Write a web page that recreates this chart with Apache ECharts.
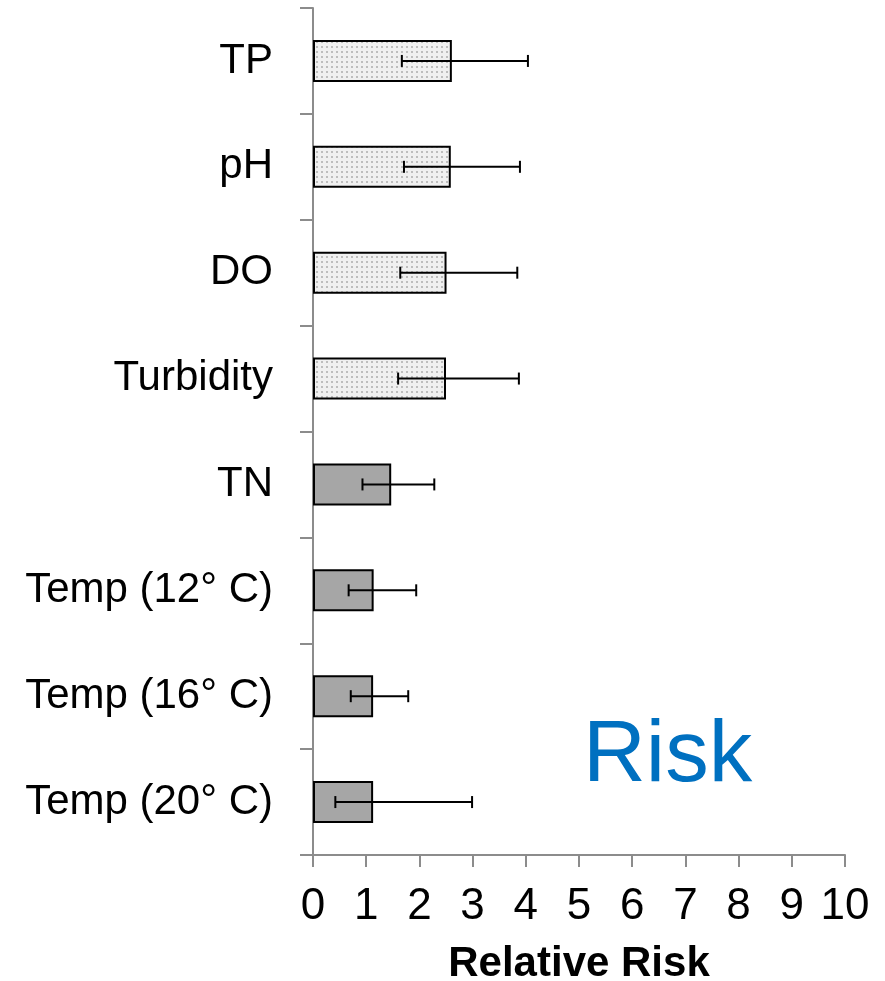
<!DOCTYPE html>
<html>
<head>
<meta charset="utf-8">
<script src="https://cdn.jsdelivr.net/npm/echarts@6/dist/echarts.min.js"></script>
<style>
  html, body { margin: 0; padding: 0; background: #fff; }
  #chart { width: 885px; height: 981px; }
</style>
</head>
<body>
<div id="chart"></div>
<script>
// Predictors, top to bottom
const categories = ['TP', 'pH', 'DO', 'Turbidity', 'TN', 'Temp (12° C)', 'Temp (16° C)', 'Temp (20° C)'];
// Relative risk estimates and their confidence bounds
const relativeRisk = [2.61, 2.59, 2.51, 2.50, 1.47, 1.14, 1.13, 1.13];
const ciLow = [1.67, 1.71, 1.64, 1.60, 0.93, 0.67, 0.71, 0.42];
const ciHigh = [4.04, 3.89, 3.84, 3.87, 2.28, 1.94, 1.79, 2.99];
// Predictors drawn with the dotted fill
const dottedCategories = ['TP', 'pH', 'DO', 'Turbidity'];
// X axis range
const xMin = 0, xMax = 10, xStep = 1;

// Small tile for the dotted fill
function makeDotTile() {
  const c = document.createElement('canvas');
  c.width = 5; c.height = 5;
  const ctx = c.getContext('2d');
  ctx.fillStyle = '#f0f0f0';
  ctx.fillRect(0, 0, 5, 5);
  ctx.fillStyle = '#bdbdbd';
  ctx.fillRect(1, 1, 2, 2);
  return c;
}
const dotTile = makeDotTile();

const barData = relativeRisk.map((v, i) => ({
  value: v,
  itemStyle: {
    color: dottedCategories.includes(categories[i])
      ? { image: dotTile, repeat: 'repeat' }
      : '#a6a6a6'
  }
}));
const errData = categories.map((c, i) => [i, ciLow[i], ciHigh[i]]);

const axisGray = '#8c8c8c';
const font = '"Liberation Sans", Arial, sans-serif';
const chart = echarts.init(document.getElementById('chart'), null, { renderer: 'canvas' });
chart.setOption({
  animation: false,
  backgroundColor: '#fff',
  grid: { left: 313, right: 40, top: 8, bottom: 126, containLabel: false, outerBoundsMode: 'none' },
  xAxis: {
    type: 'value',
    min: xMin, max: xMax, interval: xStep,
    name: 'Relative Risk',
    nameLocation: 'middle',
    nameGap: 88,
    nameTextStyle: { fontFamily: font, fontSize: 42, fontWeight: 'bold', color: '#000' },
    axisLine: { show: true, lineStyle: { color: axisGray, width: 2 } },
    axisTick: { show: true, length: 12, lineStyle: { color: axisGray, width: 2 } },
    axisLabel: { fontFamily: font, fontSize: 44, color: '#000', margin: 30 },
    splitLine: { show: false }
  },
  yAxis: {
    type: 'category',
    data: categories,
    inverse: true,
    axisLine: { show: true, lineStyle: { color: axisGray, width: 2 } },
    axisTick: { show: true, length: 13, lineStyle: { color: axisGray, width: 2 } },
    axisLabel: { fontFamily: font, fontSize: 42, color: '#000', margin: 40 },
    splitLine: { show: false }
  },
  series: [
    {
      type: 'bar',
      data: barData,
      barWidth: 42,
      itemStyle: { borderColor: '#000', borderWidth: 2 }
    },
    {
      type: 'custom',
      data: errData,
      encode: { x: [1, 2], y: 0 },
      renderItem: function (params, api) {
        const idx = api.value(0);
        const lo = api.coord([api.value(1), idx]);
        const hi = api.coord([api.value(2), idx]);
        const cap = 6;
        const style = { stroke: '#000', lineWidth: 2 };
        return {
          type: 'group',
          children: [
            { type: 'line', shape: { x1: lo[0], y1: lo[1], x2: hi[0], y2: hi[1] }, style },
            { type: 'line', shape: { x1: lo[0], y1: lo[1] - cap, x2: lo[0], y2: lo[1] + cap }, style },
            { type: 'line', shape: { x1: hi[0], y1: hi[1] - cap, x2: hi[0], y2: hi[1] + cap }, style }
          ]
        };
      },
      z: 5
    }
  ],
  graphic: [
    {
      type: 'text',
      left: 583,
      top: 714,
      style: { text: 'Risk', font: '87px ' + font, fill: '#0070c0' }
    }
  ]
});
</script>
</body>
</html>
